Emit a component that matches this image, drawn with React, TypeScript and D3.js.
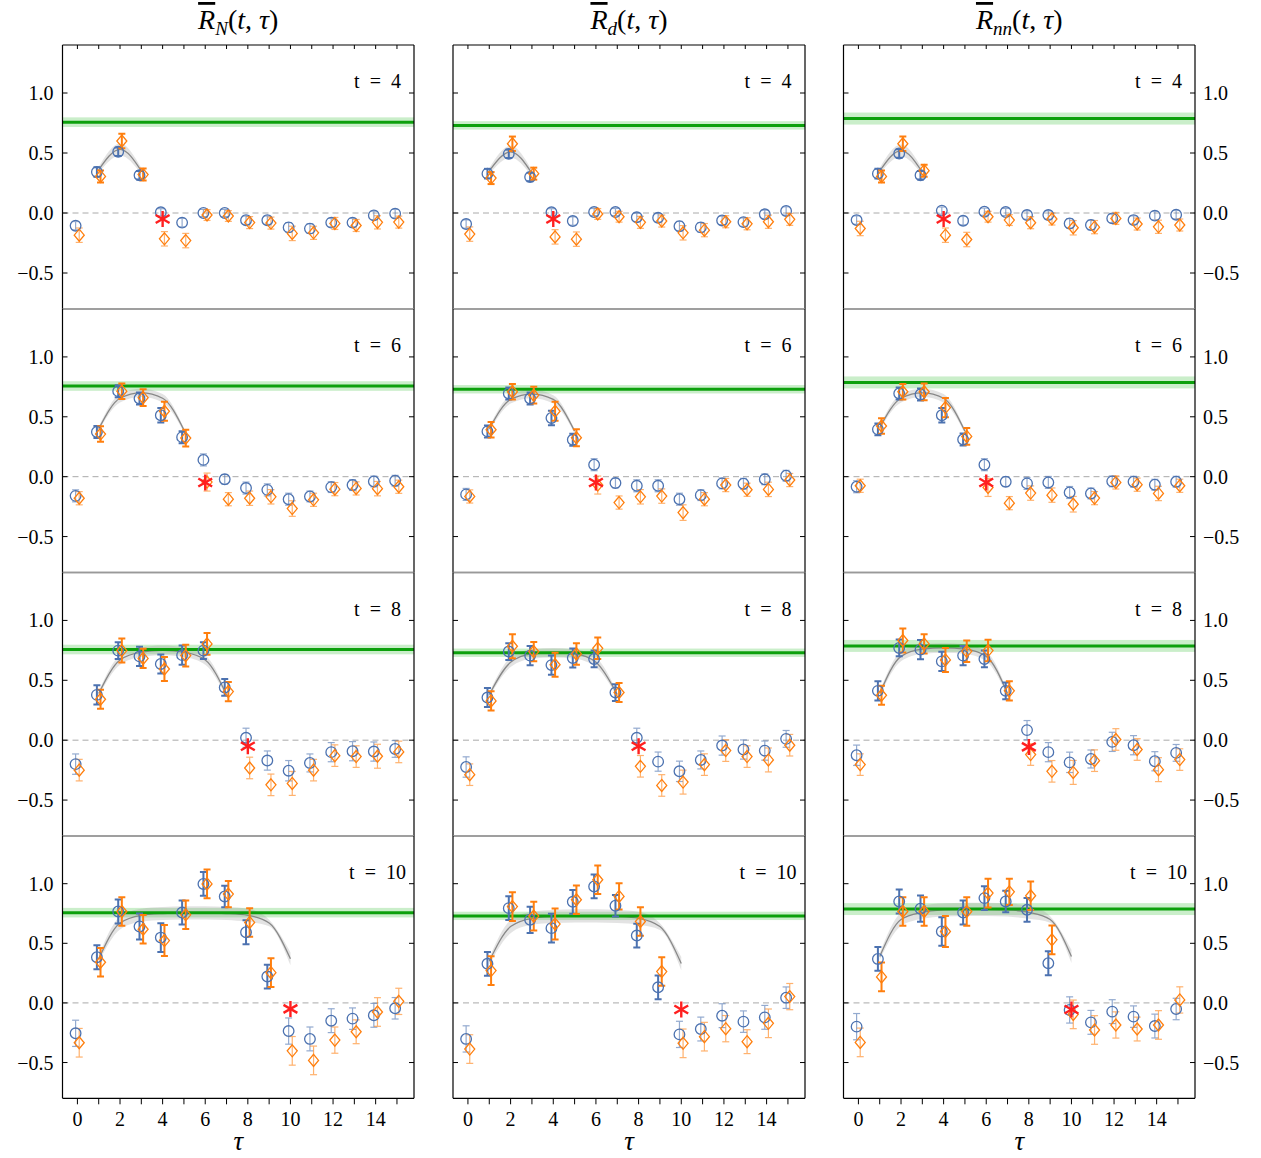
import React from 'react';
import * as d3 from 'd3';

// ---------------- data ----------------
const taus = [0, 1, 2, 3, 4, 5, 6, 7, 8, 9, 10, 11, 12, 13, 14, 15];
const tValues = [4, 6, 8, 10];
const columnKeys = ['N', 'd', 'nn'];
const xTickLabels = [0, 2, 4, 6, 8, 10, 12, 14];
const yTickValues = [-0.5, 0.0, 0.5, 1.0];

// plateau (green) value and uncertainty per column
const plateauValue = [0.757, 0.73, 0.787];
const plateauError = [0.04, 0.035, 0.05];

// column N
const blue_N_t4 = [-0.106, 0.342, 0.51, 0.314, 0.006, -0.08, 0.0, 0.0, -0.06, -0.06, -0.12, -0.13, -0.08, -0.08, -0.02, -0.005];
const orange_N_t4 = [-0.185, 0.305, 0.6, 0.32, -0.215, -0.23, -0.017, -0.025, -0.08, -0.084, -0.17, -0.165, -0.087, -0.104, -0.078, -0.076];
const blue_N_t6 = [-0.16, 0.373, 0.714, 0.653, 0.513, 0.33, 0.14, -0.022, -0.095, -0.11, -0.188, -0.165, -0.087, -0.07, -0.04, -0.034];
const orange_N_t6 = [-0.18, 0.356, 0.714, 0.66, 0.546, 0.322, -0.045, -0.188, -0.18, -0.168, -0.266, -0.193, -0.104, -0.098, -0.1, -0.084];
const blue_N_t8 = [-0.2, 0.378, 0.748, 0.7, 0.636, 0.71, 0.748, 0.44, 0.02, -0.17, -0.255, -0.19, -0.1, -0.092, -0.095, -0.073];
const orange_N_t8 = [-0.25, 0.342, 0.748, 0.683, 0.594, 0.706, 0.804, 0.406, -0.232, -0.373, -0.361, -0.25, -0.129, -0.137, -0.134, -0.098];
const blue_N_t10 = [-0.255, 0.383, 0.767, 0.641, 0.548, 0.758, 0.998, 0.893, 0.593, 0.221, -0.236, -0.302, -0.149, -0.132, -0.104, -0.045];
const orange_N_t10 = [-0.334, 0.341, 0.767, 0.618, 0.523, 0.739, 0.998, 0.913, 0.675, 0.254, -0.402, -0.482, -0.312, -0.242, -0.076, 0.013];

// column d
const blue_d_t4 = [-0.092, 0.328, 0.493, 0.3, 0.006, -0.067, 0.008, 0.008, -0.036, -0.04, -0.11, -0.12, -0.062, -0.076, -0.011, 0.017];
const orange_d_t4 = [-0.176, 0.291, 0.577, 0.328, -0.199, -0.218, -0.008, -0.031, -0.078, -0.067, -0.165, -0.143, -0.073, -0.09, -0.073, -0.053];
const blue_d_t6 = [-0.148, 0.378, 0.695, 0.653, 0.49, 0.308, 0.1, -0.053, -0.076, -0.076, -0.188, -0.154, -0.056, -0.059, -0.022, 0.008];
const orange_d_t6 = [-0.165, 0.392, 0.709, 0.68, 0.546, 0.325, -0.07, -0.216, -0.168, -0.162, -0.3, -0.188, -0.07, -0.109, -0.106, -0.028];
const blue_d_t8 = [-0.224, 0.356, 0.74, 0.706, 0.627, 0.686, 0.678, 0.398, 0.02, -0.179, -0.26, -0.165, -0.045, -0.078, -0.087, 0.011];
const orange_d_t8 = [-0.288, 0.328, 0.784, 0.74, 0.63, 0.72, 0.767, 0.398, -0.218, -0.378, -0.35, -0.204, -0.087, -0.137, -0.165, -0.042];
const blue_d_t10 = [-0.302, 0.328, 0.795, 0.697, 0.627, 0.848, 0.977, 0.815, 0.565, 0.131, -0.264, -0.219, -0.107, -0.157, -0.121, 0.044];
const orange_d_t10 = [-0.387, 0.271, 0.808, 0.728, 0.661, 0.865, 1.033, 0.893, 0.683, 0.263, -0.339, -0.283, -0.216, -0.325, -0.171, 0.053];

// column nn
const blue_nn_t4 = [-0.059, 0.328, 0.496, 0.314, 0.02, -0.064, 0.011, 0.008, -0.017, -0.017, -0.087, -0.1, -0.045, -0.059, -0.022, -0.014];
const orange_nn_t4 = [-0.129, 0.305, 0.577, 0.353, -0.185, -0.221, -0.031, -0.059, -0.081, -0.05, -0.123, -0.118, -0.045, -0.092, -0.115, -0.1];
const blue_nn_t6 = [-0.084, 0.395, 0.695, 0.686, 0.513, 0.311, 0.1, -0.042, -0.056, -0.048, -0.132, -0.14, -0.039, -0.042, -0.067, -0.042];
const orange_nn_t6 = [-0.076, 0.423, 0.709, 0.709, 0.577, 0.336, -0.09, -0.221, -0.137, -0.154, -0.23, -0.179, -0.048, -0.067, -0.14, -0.076];
const blue_nn_t8 = [-0.126, 0.412, 0.77, 0.756, 0.658, 0.706, 0.678, 0.412, 0.084, -0.1, -0.185, -0.157, -0.014, -0.042, -0.176, -0.106];
const orange_nn_t8 = [-0.204, 0.375, 0.832, 0.804, 0.67, 0.742, 0.748, 0.412, -0.12, -0.26, -0.269, -0.171, 0.006, -0.078, -0.246, -0.162];
const blue_nn_t10 = [-0.199, 0.369, 0.851, 0.79, 0.599, 0.758, 0.879, 0.851, 0.781, 0.333, -0.059, -0.163, -0.073, -0.115, -0.194, -0.051];
const orange_nn_t10 = [-0.331, 0.218, 0.767, 0.767, 0.599, 0.767, 0.921, 0.932, 0.899, 0.529, -0.096, -0.227, -0.185, -0.219, -0.185, 0.025];

// error bars per row (t = 4, 6, 8, 10)
const blueErr_t4 = [0.035, 0.04, 0.035, 0.035, 0.03, 0.035, 0.03, 0.03, 0.035, 0.035, 0.04, 0.04, 0.035, 0.035, 0.035, 0.035];
const orangeErr_t4 = [0.06, 0.05, 0.06, 0.05, 0.06, 0.06, 0.045, 0.045, 0.05, 0.05, 0.06, 0.055, 0.05, 0.05, 0.055, 0.05];
const blueErr_t6 = [0.05, 0.05, 0.05, 0.05, 0.06, 0.05, 0.05, 0.04, 0.05, 0.05, 0.05, 0.045, 0.045, 0.045, 0.045, 0.045];
const orangeErr_t6 = [0.055, 0.065, 0.065, 0.07, 0.08, 0.07, 0.075, 0.055, 0.06, 0.06, 0.065, 0.055, 0.055, 0.055, 0.06, 0.055];
const blueErr_t8 = [0.085, 0.08, 0.07, 0.08, 0.08, 0.08, 0.07, 0.07, 0.08, 0.08, 0.085, 0.075, 0.08, 0.08, 0.08, 0.07];
const orangeErr_t8 = [0.09, 0.08, 0.1, 0.08, 0.1, 0.09, 0.09, 0.08, 0.09, 0.09, 0.1, 0.09, 0.09, 0.09, 0.1, 0.09];
const blueErr_t10 = [0.11, 0.1, 0.1, 0.11, 0.12, 0.1, 0.1, 0.09, 0.1, 0.1, 0.11, 0.1, 0.1, 0.09, 0.1, 0.09];
const orangeErr_t10 = [0.12, 0.12, 0.12, 0.12, 0.13, 0.12, 0.12, 0.11, 0.12, 0.12, 0.12, 0.12, 0.11, 0.1, 0.12, 0.11];

// fit curves (values at tau = 1 .. t-1)
const fit_N_t4 = [0.36, 0.53, 0.35];
const fit_N_t6 = [0.4, 0.655, 0.7, 0.655, 0.39];
const fit_N_t8 = [0.39, 0.67, 0.735, 0.75, 0.735, 0.67, 0.38];
const fit_N_t10 = [0.37, 0.67, 0.735, 0.75, 0.755, 0.755, 0.75, 0.735, 0.67, 0.37];
const fit_d_t4 = [0.35, 0.51, 0.33];
const fit_d_t6 = [0.4, 0.645, 0.69, 0.645, 0.38];
const fit_d_t8 = [0.38, 0.65, 0.72, 0.73, 0.72, 0.65, 0.38];
const fit_d_t10 = [0.35, 0.64, 0.71, 0.725, 0.73, 0.73, 0.725, 0.71, 0.64, 0.33];
const fit_nn_t4 = [0.35, 0.52, 0.34];
const fit_nn_t6 = [0.41, 0.655, 0.7, 0.655, 0.38];
const fit_nn_t8 = [0.39, 0.7, 0.76, 0.77, 0.76, 0.7, 0.39];
const fit_nn_t10 = [0.39, 0.7, 0.76, 0.78, 0.785, 0.785, 0.78, 0.76, 0.7, 0.39];
const fitBandHalfWidth = [0.05, 0.035, 0.04, 0.055];

// red asterisk values at tau = t
const star_N = [-0.05, -0.048, -0.05, -0.05];
const star_d = [-0.05, -0.048, -0.05, -0.055];
const star_nn = [-0.05, -0.048, -0.056, -0.055];

const blueData = [
  [blue_N_t4, blue_N_t6, blue_N_t8, blue_N_t10],
  [blue_d_t4, blue_d_t6, blue_d_t8, blue_d_t10],
  [blue_nn_t4, blue_nn_t6, blue_nn_t8, blue_nn_t10],
];
const orangeData = [
  [orange_N_t4, orange_N_t6, orange_N_t8, orange_N_t10],
  [orange_d_t4, orange_d_t6, orange_d_t8, orange_d_t10],
  [orange_nn_t4, orange_nn_t6, orange_nn_t8, orange_nn_t10],
];
const blueErrs = [blueErr_t4, blueErr_t6, blueErr_t8, blueErr_t10];
const orangeErrs = [orangeErr_t4, orangeErr_t6, orangeErr_t8, orangeErr_t10];
const fitData = [
  [fit_N_t4, fit_N_t6, fit_N_t8, fit_N_t10],
  [fit_d_t4, fit_d_t6, fit_d_t8, fit_d_t10],
  [fit_nn_t4, fit_nn_t6, fit_nn_t8, fit_nn_t10],
];
const starData = [star_N, star_d, star_nn];

// ---------------- layout ----------------
const W = 1261;
const H = 1158;
const colX: [number, number][] = [[62.5, 414], [453, 805], [843.5, 1195]];
const rowY: [number, number][] = [[45, 309], [309, 572.5], [572.5, 836], [836, 1098.3]];
const FONT = '"Liberation Serif", "DejaVu Serif", serif';
const BLUE = '#4c72b0';
const ORANGE = '#ff7f0e';
const OFFSET = 0.085;

function fmt(v: number) {
  const s = Math.abs(v).toFixed(1);
  return v < 0 ? '\u2212' + s : s;
}

function Panel({ ci, ri }: { ci: number; ri: number }) {
  const [x0, x1] = colX[ci];
  const [y0, y1] = rowY[ri];
  const t = tValues[ri];
  const x = d3.scaleLinear().domain([-0.7, 15.8]).range([x0, x1]);
  const y = d3.scaleLinear().domain([-0.8, 1.4]).range([y1, y0]);
  const clipId = `clip-${ci}-${ri}`;

  const pv = plateauValue[ci];
  const pe = plateauError[ci];

  const fit = fitData[ci][ri];
  const fitPts = fit.map((v, i) => ({ tau: i + 1, v }));
  const bw = fitBandHalfWidth[ri];
  const area = d3
    .area<{ tau: number; v: number }>()
    .x((d) => x(d.tau))
    .y0((d) => y(d.v - bw * (d.tau === 1 || d.tau === t - 1 ? 0.5 : 1)))
    .y1((d) => y(d.v + bw * (d.tau === 1 || d.tau === t - 1 ? 0.5 : 1)))
    .curve(d3.curveMonotoneX);
  const line = d3
    .line<{ tau: number; v: number }>()
    .x((d) => x(d.tau))
    .y((d) => y(d.v))
    .curve(d3.curveMonotoneX);

  const blue = blueData[ci][ri];
  const orange = orangeData[ci][ri];
  const bErr = blueErrs[ri];
  const oErr = orangeErrs[ri];
  const inFit = (tau: number) => tau >= 1 && tau <= t - 1;

  const errBar = (xc: number, v: number, e: number, color: string, strong: boolean, key: string) => {
    const yt = y(v + e);
    const yb = y(v - e);
    const sw = strong ? 2 : 1.2;
    const op = strong ? 1 : 0.6;
    return (
      <g key={key} stroke={color} strokeWidth={sw} opacity={op}>
        <line x1={xc} x2={xc} y1={yt} y2={yb} />
        <line x1={xc - 3.5} x2={xc + 3.5} y1={yt} y2={yt} />
        <line x1={xc - 3.5} x2={xc + 3.5} y1={yb} y2={yb} />
      </g>
    );
  };

  const starX = x(t);
  const starY = y(starData[ci][ri]);
  const starR = 8;
  const starLines = [90, 30, 150].map((a) => {
    const r = (a * Math.PI) / 180;
    return (
      <line
        key={a}
        x1={starX - starR * Math.cos(r)}
        y1={starY - starR * Math.sin(r)}
        x2={starX + starR * Math.cos(r)}
        y2={starY + starR * Math.sin(r)}
        stroke="#ff1f1f"
        strokeWidth={2.4}
      />
    );
  });

  const topColor = ri === 0 ? '#000' : '#999';
  const bottomColor = ri === 3 ? '#000' : '#999';

  return (
    <g>
      <defs>
        <clipPath id={clipId}>
          <rect x={x0} y={y0} width={x1 - x0} height={y1 - y0} />
        </clipPath>
      </defs>
      <g clipPath={`url(#${clipId})`}>
        <rect x={x0} y={y(pv + pe)} width={x1 - x0} height={y(pv - pe) - y(pv + pe)} fill="#a6e3a6" opacity={0.6} />
        <line x1={x0} x2={x1} y1={y(0)} y2={y(0)} stroke="#aaa" strokeWidth={1} strokeDasharray="6,4" />
        <path d={area(fitPts) || ''} fill="#999" opacity={0.28} />
        <path d={line(fitPts) || ''} fill="none" stroke="#888" strokeWidth={1.3} />
        <line x1={x0} x2={x1} y1={y(pv)} y2={y(pv)} stroke="#0ca00c" strokeWidth={3} />
        {taus.map((tau) => errBar(x(tau - OFFSET), blue[tau], bErr[tau], BLUE, inFit(tau), `be${tau}`))}
        {taus.map((tau) => errBar(x(tau + OFFSET), orange[tau], oErr[tau], ORANGE, inFit(tau), `oe${tau}`))}
        {taus.map((tau) => (
          <circle key={`bc${tau}`} cx={x(tau - OFFSET)} cy={y(blue[tau])} r={5.3} fill="none" stroke={BLUE} strokeWidth={1.3} />
        ))}
        {taus.map((tau) => {
          const cx = x(tau + OFFSET);
          const cy = y(orange[tau]);
          return (
            <path
              key={`od${tau}`}
              d={`M${cx},${cy - 6}L${cx + 5},${cy}L${cx},${cy + 6}L${cx - 5},${cy}Z`}
              fill="none"
              stroke={ORANGE}
              strokeWidth={1.3}
            />
          );
        })}
        {starLines}
      </g>
      {/* ticks */}
      {yTickValues.map((v) => (
        <g key={`yt${v}`} stroke="#000" strokeWidth={1}>
          <line x1={x0} x2={x0 + 5} y1={y(v)} y2={y(v)} />
          <line x1={x1} x2={x1 - 5} y1={y(v)} y2={y(v)} />
        </g>
      ))}
      {ri === 0 &&
        taus.map((tau) => <line key={`xtt${tau}`} x1={x(tau)} x2={x(tau)} y1={y0} y2={y0 + 4} stroke="#000" strokeWidth={1} />)}
      {ri === 3 &&
        taus.map((tau) => <line key={`xtb${tau}`} x1={x(tau)} x2={x(tau)} y1={y1} y2={y1 + 6} stroke="#000" strokeWidth={1} />)}
      {/* spines */}
      <line x1={x0} x2={x1} y1={y0} y2={y0} stroke={topColor} strokeWidth={ri === 0 ? 1.2 : 1.4} />
      <line x1={x0} x2={x1} y1={y1} y2={y1} stroke={bottomColor} strokeWidth={ri === 3 ? 1.2 : 1.4} />
      <line x1={x0} x2={x0} y1={y0} y2={y1} stroke="#000" strokeWidth={1.2} />
      <line x1={x1} x2={x1} y1={y0} y2={y1} stroke="#000" strokeWidth={1.2} />
      {/* tick labels */}
      {ci === 0 &&
        yTickValues.map((v) => (
          <text key={`yl${v}`} x={x0 - 9} y={y(v) + 7} textAnchor="end" fontSize={20} fontFamily={FONT}>
            {fmt(v)}
          </text>
        ))}
      {ci === 2 &&
        yTickValues.map((v) => (
          <text key={`yr${v}`} x={x1 + 8} y={y(v) + 7} textAnchor="start" fontSize={20} fontFamily={FONT}>
            {fmt(v)}
          </text>
        ))}
      {ri === 3 &&
        xTickLabels.map((v) => (
          <text key={`xl${v}`} x={x(v)} y={y1 + 28} textAnchor="middle" fontSize={20} fontFamily={FONT}>
            {v}
          </text>
        ))}
      {/* t label */}
      <text x={x0 + 315} y={y0 + 43} textAnchor="middle" fontSize={20} fontFamily={FONT}>
        {`t\u2002=\u2002${t}`}
      </text>
    </g>
  );
}

function Title({ ci }: { ci: number }) {
  const cx = (colX[ci][0] + colX[ci][1]) / 2;
  return (
    <text x={cx} y={29} textAnchor="middle" fontSize={28} fontFamily={FONT}>
      <tspan fontStyle="italic" style={{ textDecoration: 'overline' }}>R</tspan>
      <tspan fontStyle="italic" fontSize={19} dy={6}>{columnKeys[ci]}</tspan>
      <tspan dy={-6}>(</tspan>
      <tspan fontStyle="italic">t</tspan>
      <tspan>, </tspan>
      <tspan fontStyle="italic">τ</tspan>
      <tspan>)</tspan>
    </text>
  );
}

export default function App() {
  return (
    <svg
      width={W}
      height={H}
      viewBox={`0 0 ${W} ${H}`}
      style={{ position: 'absolute', left: 0, top: 0, display: 'block', background: '#fff' }}
    >
      <rect x={0} y={0} width={W} height={H} fill="#fff" />
      {[0, 1, 2].map((ci) => (
        <g key={ci}>
          <Title ci={ci} />
          {[0, 1, 2, 3].map((ri) => (
            <Panel key={ri} ci={ci} ri={ri} />
          ))}
          <text
            x={(colX[ci][0] + colX[ci][1]) / 2}
            y={1150}
            textAnchor="middle"
            fontSize={27}
            fontStyle="italic"
            fontFamily={FONT}
          >
            τ
          </text>
        </g>
      ))}
    </svg>
  );
}
